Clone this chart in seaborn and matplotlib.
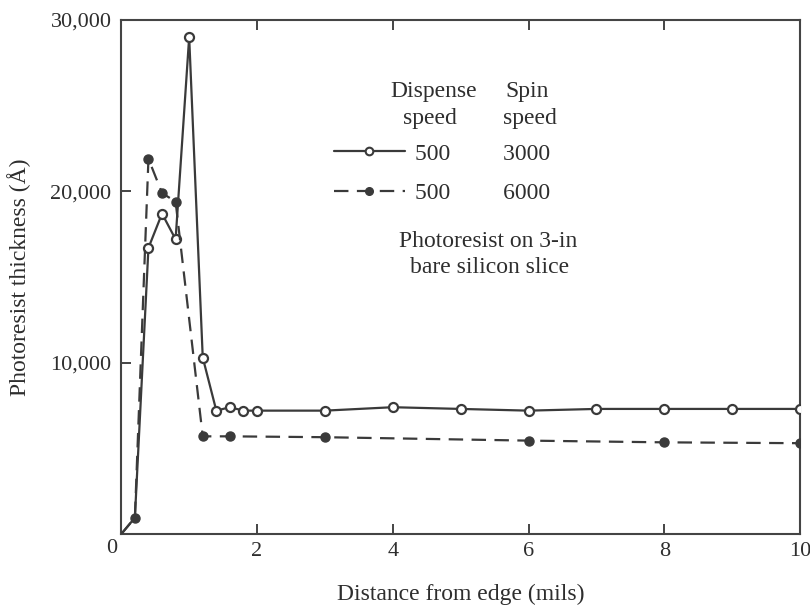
import matplotlib
matplotlib.use("Agg")
import matplotlib.pyplot as plt
import matplotlib.transforms as mtransforms
from matplotlib.lines import Line2D
import seaborn as sns
import pandas as pd

# ---- data ----
x_open = [0, 0.2, 0.4, 0.6, 0.8, 1.0, 1.2, 1.4, 1.6, 1.8, 2.0, 3, 4, 5, 6, 7, 8, 9, 10]
y_open = [0, 950, 16700, 18700, 17200, 29000, 10300, 7200, 7400, 7200, 7200,
          7200, 7400, 7300, 7200, 7300, 7300, 7300, 7300]

x_fill = [0, 0.2, 0.4, 0.6, 0.8, 1.2, 1.6, 3, 6, 8, 10]
y_fill = [0, 950, 21900, 19900, 19400, 5700, 5700, 5650, 5450, 5350, 5300]

x_ticks = [2, 4, 6, 8, 10]
y_ticks = [10000, 20000, 30000]
y_ticklabels = ["10,000", "20,000", "30,000"]

legend_labels = ["500         3000", "500         6000"]

sns.set_theme(style="ticks")
plt.rcParams["font.family"] = ["Liberation Serif", "DejaVu Serif"]

INK = "#2e2e2e"
LINE = "#3a3a3a"

W, H = 810, 605
fig = plt.figure(figsize=(W / 100, H / 100), dpi=100)
fig.patch.set_facecolor("white")
ax = fig.add_axes([121.3 / W, 1 - 534 / H, 678.7 / W, 514 / H])
ax.set_facecolor("white")

df_open = pd.DataFrame({"x": x_open, "y": y_open})
df_fill = pd.DataFrame({"x": x_fill, "y": y_fill})

sns.lineplot(data=df_open, x="x", y="y", ax=ax, color=LINE, linewidth=1.6,
             marker="o", markersize=6.5, markerfacecolor="white",
             markeredgecolor=LINE, markeredgewidth=1.6,
             markevery=list(range(2, len(x_open))), errorbar=None, zorder=3)
sns.lineplot(data=df_fill, x="x", y="y", ax=ax, color=LINE, linewidth=1.6,
             linestyle=(0, (6.5, 3.8)),
             marker="o", markersize=6.5, markerfacecolor=LINE,
             markeredgecolor=LINE, markeredgewidth=1.0,
             markevery=list(range(1, len(x_fill))), errorbar=None, zorder=4)

ax.set_xlim(0, 10)
ax.set_ylim(0, 30000)

for sp in ax.spines.values():
    sp.set_color("#444444")
    sp.set_linewidth(1.5)
    sp.set_visible(True)

ax.set_xticks(x_ticks)
ax.set_xticklabels([str(t) for t in x_ticks])
ax.set_yticks(y_ticks)
ax.set_yticklabels(y_ticklabels)
ax.tick_params(axis="x", direction="in", length=7, width=1.4, color="#444444",
               top=True, labelsize=16, labelcolor=INK, pad=6)
ax.tick_params(axis="y", direction="in", length=7, width=1.4, color="#444444",
               right=False, labelsize=16, labelcolor=INK, pad=7)

# shared origin label
off = mtransforms.offset_copy(ax.transData, fig=fig, x=-4, y=-5, units="dots")
ax.text(0, 0, "0", transform=off, ha="right", va="top", fontsize=16, color=INK)

ax.set_xlabel("Distance from edge (mils)", fontsize=17, color=INK, labelpad=16)
ax.set_ylabel("Photoresist thickness (Å)", fontsize=17, color=INK, labelpad=14)

# legend
handles = [
    Line2D([], [], color=LINE, linewidth=1.6, marker="o", markersize=5.5,
           markerfacecolor="white", markeredgecolor=LINE, markeredgewidth=1.5),
    Line2D([], [], color=LINE, linewidth=1.6, linestyle=(0, (6.5, 3.8)),
           marker="o", markersize=5.5, markerfacecolor=LINE,
           markeredgecolor=LINE),
]
for h in handles:
    h.set_markevery([0, 1])
leg = ax.legend(handles, legend_labels, loc="upper left",
                bbox_to_anchor=(334 / W, 1 - 143 / H),
                bbox_transform=fig.transFigure, frameon=False,
                fontsize=17, handlelength=3.0, handletextpad=0.42,
                labelspacing=0.78, borderpad=0, borderaxespad=0)
for t in leg.get_texts():
    t.set_color(INK)


def ftext(px, py, s, **kw):
    fig.text(px / W, 1 - py / H, s, fontsize=17, color=INK, **kw)


ftext(433.5, 96.7, "Dispense", ha="center", va="baseline")
ftext(430, 124, "speed", ha="center", va="baseline")
ftext(527.5, 96.7, "Spin", ha="center", va="baseline")
ftext(530, 124, "speed", ha="center", va="baseline")
ftext(488, 246.7, "Photoresist on 3-in", ha="center", va="baseline")
ftext(489.5, 273.3, "bare silicon slice", ha="center", va="baseline")

fig.savefig("out.png", dpi=100)
